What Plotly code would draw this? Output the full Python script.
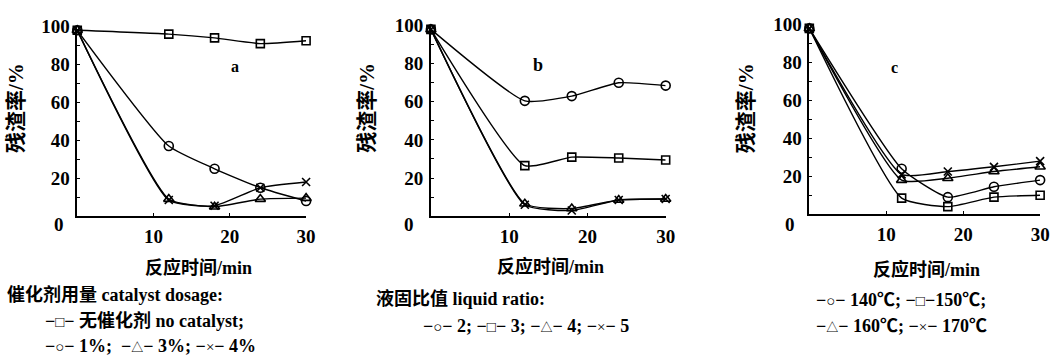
import plotly.graph_objects as go

W, H = 1064, 364

times = [0, 12, 18, 24, 30]

# panel a: catalyst dosage
a_no_catalyst = [98, 96, 94, 91, 92.5]
a_cat_1 = [98, 37, 25, 15, 8]
a_cat_3 = [98, 9, 5, 9, 9.5]
a_cat_4 = [98, 8.5, 5.5, 15, 18]

# panel b: liquid ratio
b_ratio_2 = [98, 60.5, 63, 70, 68.5]
b_ratio_3 = [98, 26.5, 31, 30.5, 29.5]
b_ratio_4 = [98, 6.5, 4, 8.5, 9]
b_ratio_5 = [98, 6, 3, 8.5, 9]

# panel c: temperature
c_140 = [98, 24, 9, 14.5, 18]
c_150 = [98, 8.5, 4, 9, 10]
c_160 = [98, 18, 19, 22.5, 25]
c_170 = [98, 21, 22.5, 25, 28]

y_ticks = [20, 40, 60, 80, 100]
x_ticks = [10, 20, 30]

FONT = "Liberation Serif, Noto Sans CJK SC, serif"

def px_x(p):
    return p / W

def px_y(p):
    return 1 - p / H

# pixel geometry of the three panels: (x at 0, x at 30, y at 0, y at 100)
panels = [
    (78, 309, 212, 17),
    (435, 672, 212, 16),
    (817, 1050, 210, 15),
]

sym = {
    "circle": dict(symbol="circle-open", size=9),
    "square": dict(symbol="square-open", size=8),
    "triangle": dict(symbol="triangle-up-open", size=9),
    "x": dict(symbol="x-thin-open", size=8),
}

series = [
    (1, a_no_catalyst, "square"), (1, a_cat_1, "circle"), (1, a_cat_3, "triangle"), (1, a_cat_4, "x"),
    (2, b_ratio_2, "circle"), (2, b_ratio_3, "square"), (2, b_ratio_4, "triangle"), (2, b_ratio_5, "x"),
    (3, c_140, "circle"), (3, c_150, "square"), (3, c_160, "triangle"), (3, c_170, "x"),
]

fig = go.Figure()
for idx, ys, s in series:
    sfx = "" if idx == 1 else str(idx)
    m = sym[s]
    fig.add_trace(go.Scatter(
        x=times, y=ys, mode="lines+markers",
        xaxis="x" + sfx, yaxis="y" + sfx,
        line=dict(color="black", width=1.4, shape="spline", smoothing=0.5),
        marker=dict(symbol=m["symbol"], size=m["size"], color="black",
                    line=dict(color="black", width=1.6)),
        cliponaxis=False, showlegend=False,
    ))

layout = dict(
    width=W, height=H,
    margin=dict(l=0, r=0, t=0, b=0),
    paper_bgcolor="white", plot_bgcolor="white",
    font=dict(family=FONT, size=17, color="black"),
    showlegend=False,
)

for i, (x0, x30, y0, y100) in enumerate(panels):
    sfx = "" if i == 0 else str(i + 1)
    layout["xaxis" + sfx] = dict(
        domain=[px_x(x0), px_x(x30)], range=[0, 30], anchor="y" + sfx,
        tickvals=x_ticks, ticktext=[str(v) for v in x_ticks],
        ticks="inside", ticklen=3, tickwidth=1, tickcolor="black",
        showline=True, linecolor="black", linewidth=1.5,
        showgrid=False, zeroline=False, ticklabelstandoff=2,
        tickfont=dict(family=FONT, size=19, color="black", weight="bold"),
    )
    layout["yaxis" + sfx] = dict(
        domain=[px_y(y0), px_y(y100)], range=[0, 100], anchor="x" + sfx,
        tickvals=y_ticks, ticktext=[str(v) for v in y_ticks],
        ticks="inside", ticklen=3, tickwidth=1, tickcolor="black",
        minor=dict(dtick=10, tick0=0, ticks="inside", ticklen=3, tickcolor="black"),
        showline=True, linecolor="black", linewidth=1.5,
        showgrid=False, zeroline=False, ticklabelstandoff=2,
        tickfont=dict(family=FONT, size=19, color="black", weight="bold"),
    )

fig.update_layout(**layout)

def ann(text, x, y, size=18, xanchor="left", angle=0, bold=True):
    fig.add_annotation(
        text=text, x=px_x(x), y=px_y(y), xref="paper", yref="paper",
        xanchor=xanchor, yanchor="middle", showarrow=False, textangle=angle,
        font=dict(family=FONT, size=size, color="black", weight="bold" if bold else "normal"),
    )

def s(ch):
    size = 12 if ch == "△" else 15
    return '<span style="font-size:%dpx;font-weight:normal">%s</span>' % (size, ch)

# corner zero labels
for zx in (60, 413, 797):
    ann("0", zx, 221, size=19, xanchor="center")

# y-axis titles
for tx in (16, 371, 753):
    ann("残渣率/%", tx, 101, size=21, xanchor="center", angle=-90)

# panel letters
ann("a", 237, 58, size=16, xanchor="center")
ann("b", 543, 57, size=18, xanchor="center")
ann("c", 903, 59, size=16, xanchor="center")

# x-axis titles
ann("反应时间/min", 200, 265, xanchor="center")
ann("反应时间/min", 556, 264, xanchor="center")
ann("反应时间/min", 935, 267, xanchor="center")

# legend texts
ann("催化剂用量 catalyst dosage:", 5, 293)
ann("−" + s("□") + "− 无催化剂 no catalyst;", 43, 319)
ann("−" + s("○") + "− 1%;  −" + s("△") + "− 3%; −" + s("×") + "− 4%", 43, 345)
ann("液固比值 liquid ratio:", 378, 297)
ann("−" + s("○") + "− 2; −" + s("□") + "− 3; −" + s("△") + "− 4; −" + s("×") + "− 5", 425, 325)
ann("−" + s("○") + "− 140℃; −" + s("□") + "−150℃;", 822, 298)
ann("−" + s("△") + "− 160℃; −" + s("×") + "− 170℃", 822, 325)

fig.write_html("out.html")
